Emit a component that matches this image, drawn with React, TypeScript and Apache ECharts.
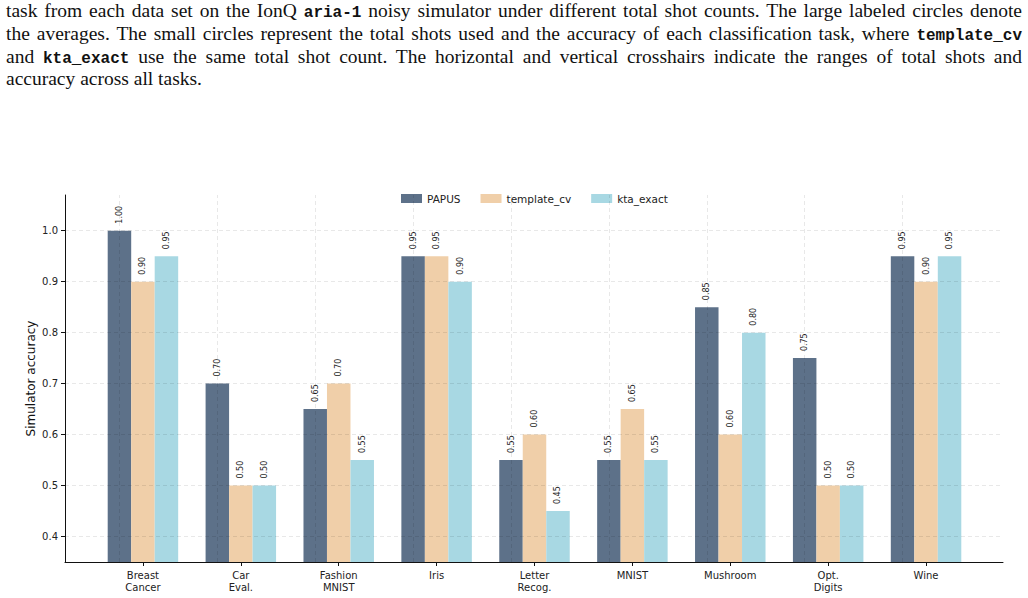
import React, { useEffect, useRef } from "react";
import * as echarts from "echarts";

const categories = [
  "Breast\nCancer",
  "Car\nEval.",
  "Fashion\nMNIST",
  "Iris",
  "Letter\nRecog.",
  "MNIST",
  "Mushroom",
  "Opt.\nDigits",
  "Wine",
];
const papus = [1.0, 0.7, 0.65, 0.95, 0.55, 0.55, 0.85, 0.75, 0.95];
const templateCv = [0.9, 0.5, 0.7, 0.95, 0.6, 0.65, 0.6, 0.5, 0.9];
const ktaExact = [0.95, 0.5, 0.55, 0.9, 0.45, 0.55, 0.8, 0.5, 0.95];
const yTicks = [0.4, 0.5, 0.6, 0.7, 0.8, 0.9, 1.0];

const FONT = "DejaVu Sans";
const Y_MIN = 0.35;
const Y_MAX = 1.07;

const gridLine = { color: "rgba(0,0,0,0.09)", type: [4, 3] as any, width: 1 };

function barSeries(name: string, data: number[], color: string, withGrid: boolean) {
  const s: any = {
    name,
    type: "bar",
    xAxisIndex: 1,
    yAxisIndex: 1,
    data,
    barWidth: "24%",
    barGap: "0%",
    itemStyle: { color },
    label: {
      show: true,
      position: "top",
      rotate: 90,
      align: "left",
      verticalAlign: "middle",
      distance: 7,
      fontFamily: FONT,
      fontSize: 8,
      color: "#222",
      formatter: (p: any) => Number(p.value).toFixed(2),
    },
  };
  if (withGrid) {
    // vertical guides at each category centre, drawn over the bars
    s.markLine = {
      silent: true,
      symbol: "none",
      label: { show: false },
      lineStyle: gridLine,
      data: categories.map((c) => ({ xAxis: c })),
    };
  }
  return s;
}

function Caption() {
  const base: React.CSSProperties = {
    fontFamily: "'Liberation Serif', serif",
    fontSize: 19.5,
    lineHeight: "20.8px",
    color: "#111",
    whiteSpace: "nowrap",
  };
  const tt: React.CSSProperties = {
    fontFamily: "'Liberation Mono', monospace",
    fontWeight: "bold",
    fontSize: 16,
  };
  const just: React.CSSProperties = { textAlign: "justify", textAlignLast: "justify" as any };
  return (
    <div style={{ position: "absolute", left: 6, top: 1, width: 1016, ...base }}>
      <div style={just}>
        task from each data set on the IonQ <span style={tt}>aria-1</span> noisy simulator under different total
        shot counts. The large labeled circles denote
      </div>
      <div style={just}>
        the averages. The small circles represent the total shots used and the accuracy of each classification
        task, where <span style={tt}>template_cv</span>
      </div>
      <div style={just}>
        and <span style={tt}>kta_exact</span> use the same total shot count. The horizontal and vertical crosshairs
        indicate the ranges of total shots and
      </div>
      <div>accuracy across all tasks.</div>
    </div>
  );
}

export default function App() {
  const ref = useRef<HTMLDivElement>(null);

  useEffect(() => {
    if (!ref.current) return;
    const chart = echarts.init(ref.current, undefined, { renderer: "svg" });
    chart.setOption({
      animation: false,
      backgroundColor: "#fff",
      textStyle: { fontFamily: FONT },
      legend: {
        top: 188,
        left: 396,
        itemWidth: 21,
        itemHeight: 9,
        itemGap: 20,
        icon: "rect",
        textStyle: { fontFamily: FONT, fontSize: 10.5, color: "#222" },
        data: ["PAPUS", "template_cv", "kta_exact"],
      },
      grid: [
        { left: 65, right: 25, top: 195, bottom: 36, containLabel: false },
        { left: 94, right: 53, top: 195, bottom: 36, containLabel: false },
      ],
      xAxis: [
        {
          gridIndex: 0,
          type: "value",
          min: 0,
          max: 1,
          axisLine: { show: true, lineStyle: { color: "#111", width: 1 } },
          axisTick: { show: false },
          axisLabel: { show: false },
          splitLine: { show: false },
        },
        {
          gridIndex: 1,
          type: "category",
          data: categories,
          axisLine: { show: false },
          axisTick: { show: true, alignWithLabel: true, length: 4, lineStyle: { color: "#111" } },
          axisLabel: {
            fontFamily: FONT,
            fontSize: 10,
            color: "#222",
            lineHeight: 12,
            margin: 7,
            interval: 0,
          },
          splitLine: { show: false },
        },
      ],
      yAxis: [
        {
          gridIndex: 0,
          type: "value",
          min: Y_MIN,
          max: Y_MAX,
          name: "Simulator accuracy",
          nameLocation: "middle",
          nameGap: 28,
          nameMoveOverlap: false,
          nameTextStyle: { fontFamily: FONT, fontSize: 12, color: "#111" },
          axisLine: { show: true, lineStyle: { color: "#111", width: 1 } },
          axisTick: { show: true, length: 4, lineStyle: { color: "#111" }, customValues: yTicks },
          axisLabel: {
            fontFamily: FONT,
            fontSize: 10,
            color: "#222",
            margin: 7,
            customValues: yTicks,
            formatter: (v: number) => v.toFixed(1),
          },
          splitLine: { show: false },
        },
        {
          gridIndex: 1,
          type: "value",
          min: Y_MIN,
          max: Y_MAX,
          show: false,
          splitLine: { show: false },
        },
      ],
      series: [
        {
          // horizontal guides at the y tick values
          type: "line",
          xAxisIndex: 0,
          yAxisIndex: 0,
          data: [],
          silent: true,
          z: 1,
          markLine: {
            silent: true,
            symbol: "none",
            label: { show: false },
            lineStyle: gridLine,
            data: yTicks.map((v) => ({ yAxis: v })),
          },
        },
        barSeries("PAPUS", papus, "#5d7189", true),
        barSeries("template_cv", templateCv, "#f0cfa9", false),
        barSeries("kta_exact", ktaExact, "#a8d8e3", false),
      ],
    });
    return () => chart.dispose();
  }, []);

  return (
    <div style={{ position: "absolute", left: 0, top: 0, width: 1028, height: 598, background: "#fff" }}>
      <div ref={ref} style={{ position: "absolute", left: 0, top: 0, width: 1028, height: 598 }} />
      <Caption />
    </div>
  );
}
